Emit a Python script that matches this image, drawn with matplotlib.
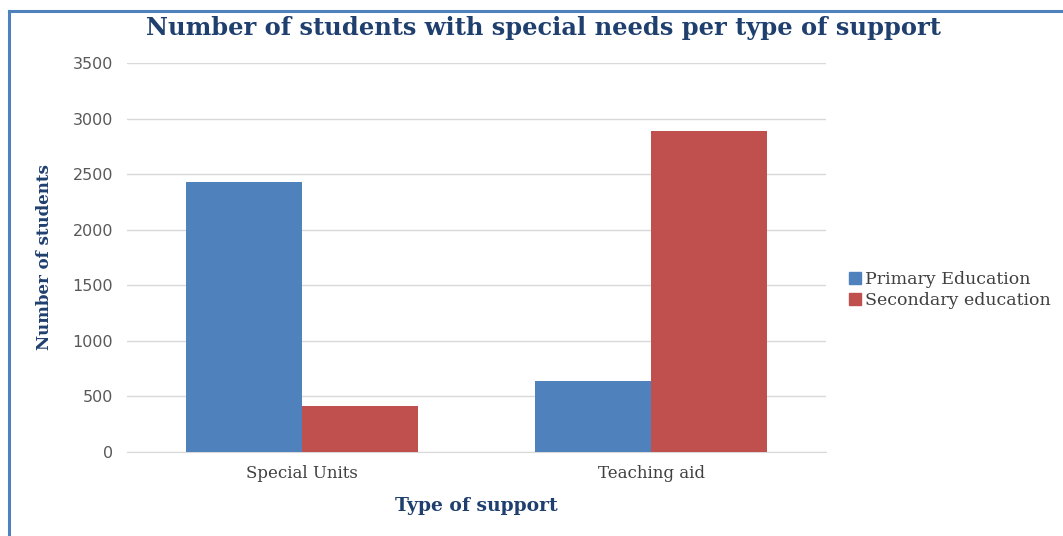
import matplotlib
matplotlib.use("Agg")
import matplotlib.pyplot as plt
import numpy as np
from matplotlib.lines import Line2D
from matplotlib.patches import Patch

categories = ["Special Units", "Teaching aid"]
series_names = ["Primary Education", "Secondary education"]
primary = [2430, 640]
secondary = [415, 2890]
yticks = [0, 500, 1000, 1500, 2000, 2500, 3000, 3500]

colors = ["#4F81BD", "#C0504D"]
title_color = "#1F3F6E"
text_gray = "#404040"

fig = plt.figure(figsize=(10.63, 5.36), dpi=100)
fig.patch.set_facecolor("white")
ax = fig.add_axes([127 / 1063, (536 - 452) / 536, 699 / 1063, 389 / 536])

x = np.arange(len(categories))
w = 0.332
ax.bar(x - w / 2, primary, width=w, color=colors[0], label=series_names[0], zorder=3)
ax.bar(x + w / 2, secondary, width=w, color=colors[1], label=series_names[1], zorder=3)

ax.set_xlim(-0.5, len(categories) - 0.5)
ax.set_ylim(0, 3500)
ax.set_yticks(yticks)
ax.set_yticklabels([str(v) for v in yticks], family="DejaVu Sans", fontsize=11.5, color="#595959")
ax.set_xticks(x)
ax.set_xticklabels(categories, family="DejaVu Serif", fontsize=12, color=text_gray)
ax.tick_params(axis="both", length=0)
ax.tick_params(axis="y", pad=10)
ax.tick_params(axis="x", pad=9)
ax.grid(axis="y", color="#D9D9D9", linewidth=1, zorder=0)
for s in ["top", "right", "left"]:
    ax.spines[s].set_visible(False)
ax.spines["bottom"].set_color("#D9D9D9")

ax.set_xlabel("Type of support", family="DejaVu Serif", fontweight="bold",
              fontsize=13.5, color=title_color, labelpad=11)
ax.set_ylabel("Number of students", family="DejaVu Serif", fontweight="bold",
              fontsize=12, color=title_color, labelpad=14)

fig.text(543 / 1063, 1 - 28 / 536, "Number of students with special needs per type of support",
         ha="center", va="center", family="DejaVu Serif", fontweight="bold",
         fontsize=17.4, color=title_color)

handles = [Patch(color=colors[0]), Patch(color=colors[1])]
fig.legend(handles, series_names, loc="center left", bbox_to_anchor=(840 / 1063, 1 - 290 / 536),
           frameon=False, prop={"family": "DejaVu Serif", "size": 12.5},
           labelcolor=text_gray, handlelength=0.7, handleheight=0.7,
           handletextpad=0.25, labelspacing=0.2, borderpad=0)

# chart frame (top and left edges visible)
fig.add_artist(Line2D([9 / 1063, 1], [1 - 11 / 536, 1 - 11 / 536], color="#4F81BD",
                      linewidth=2.2, transform=fig.transFigure))
fig.add_artist(Line2D([9 / 1063, 9 / 1063], [0, 1 - 11 / 536], color="#4F81BD",
                      linewidth=2.2, transform=fig.transFigure))

fig.savefig("out.png", dpi=100, facecolor="white")
